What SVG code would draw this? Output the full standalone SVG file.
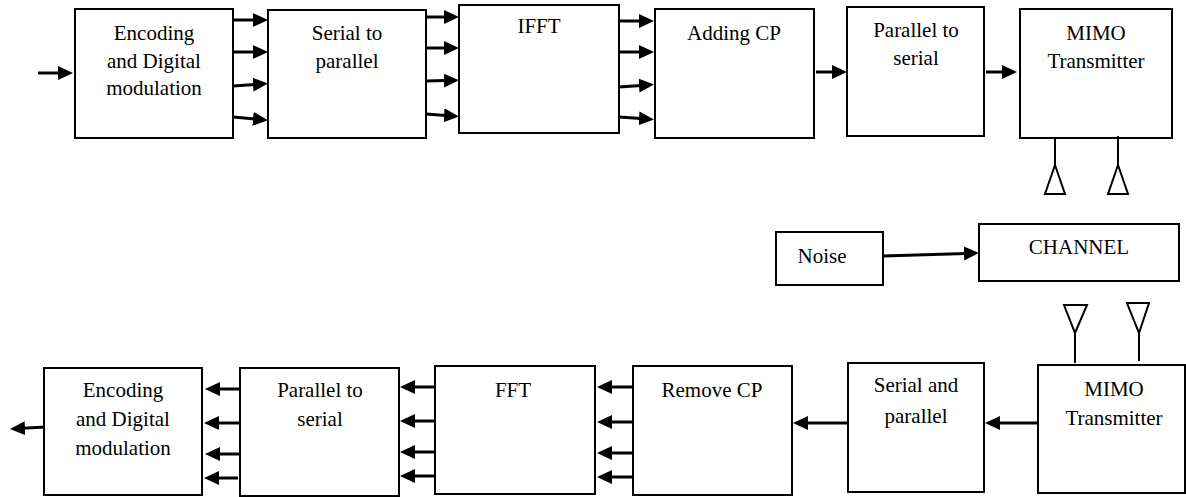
<svg xmlns="http://www.w3.org/2000/svg" width="1186" height="497" viewBox="0 0 1186 497">
<style>
.box{fill:#fff;stroke:#000;stroke-width:2}
.t{font-family:"Liberation Serif","Times New Roman",serif;font-size:21px;fill:#000;text-anchor:middle}
.c{stroke:#000;stroke-width:3;fill:none}
.ant{stroke:#000;stroke-width:2;fill:none}
</style>
<defs>
<marker id="ah" markerUnits="userSpaceOnUse" markerWidth="16" markerHeight="16" refX="2" refY="7" orient="auto">
<path d="M0,0 L15,7 L0,14 z" fill="#000"/>
</marker>
</defs>
<rect width="1186" height="497" fill="#fff"/>
<g id="enc-tx"><rect class="box" x="75" y="9" width="158" height="129"/><text class="t" x="154" y="40">Encoding</text><text class="t" x="154" y="68">and Digital</text><text class="t" x="154" y="95">modulation</text></g>
<g id="s2p-tx"><rect class="box" x="268" y="10" width="158" height="128"/><text class="t" x="347" y="40">Serial to</text><text class="t" x="347" y="68">parallel</text></g>
<g id="ifft"><rect class="box" x="459" y="5" width="160" height="128"/><text class="t" x="539" y="33">IFFT</text></g>
<g id="addcp"><rect class="box" x="655" y="9" width="159" height="129"/><text class="t" x="734" y="40">Adding CP</text></g>
<g id="p2s-tx"><rect class="box" x="847" y="7" width="137" height="129"/><text class="t" x="916" y="37">Parallel to</text><text class="t" x="916" y="65">serial</text></g>
<g id="mimo-tx"><rect class="box" x="1020" y="9" width="152" height="129"/><text class="t" x="1096" y="40">MIMO</text><text class="t" x="1096" y="68">Transmitter</text>
<line class="ant" x1="1055" y1="138" x2="1055" y2="166"/><path class="ant" d="M1055,165 L1045,194 L1065,194 Z"/>
<line class="ant" x1="1118" y1="136" x2="1118" y2="166"/><path class="ant" d="M1118,165 L1108,194 L1128,194 Z"/></g>
<g id="noise"><rect class="box" x="776" y="232" width="107" height="53"/><text class="t" x="822" y="263">Noise</text></g>
<g id="channel"><rect class="box" x="979" y="224" width="200" height="57"/><text class="t" x="1079" y="254">CHANNEL</text></g>
<g id="mimo-rx"><rect class="box" x="1038" y="365" width="147" height="128"/><text class="t" x="1114" y="396">MIMO</text><text class="t" x="1114" y="425">Transmitter</text>
<line class="ant" x1="1075" y1="363" x2="1075" y2="332"/><path class="ant" d="M1064,305 L1087,305 L1075,333 Z"/>
<line class="ant" x1="1139" y1="361" x2="1139" y2="332"/><path class="ant" d="M1127,303 L1149,303 L1139,333 Z"/></g>
<g id="s2p-rx"><rect class="box" x="848" y="363" width="136" height="129"/><text class="t" x="916" y="392">Serial and</text><text class="t" x="916" y="423">parallel</text></g>
<g id="removecp"><rect class="box" x="633" y="366" width="159" height="129"/><text class="t" x="712" y="397">Remove CP</text></g>
<g id="fft"><rect class="box" x="435" y="366" width="160" height="128"/><text class="t" x="513" y="397">FFT</text></g>
<g id="p2s-rx"><rect class="box" x="240" y="368" width="159" height="128"/><text class="t" x="320" y="397">Parallel to</text><text class="t" x="320" y="426">serial</text></g>
<g id="enc-rx"><rect class="box" x="44" y="368" width="158" height="127"/><text class="t" x="123" y="397">Encoding</text><text class="t" x="123" y="426">and Digital</text><text class="t" x="123" y="455">modulation</text></g>
<g id="connectors">
<line class="c" x1="38" y1="73" x2="60" y2="73" marker-end="url(#ah)"/>
<line class="c" x1="233" y1="20" x2="255" y2="20" marker-end="url(#ah)"/>
<line class="c" x1="233" y1="52" x2="255" y2="52" marker-end="url(#ah)"/>
<line class="c" x1="233" y1="86" x2="255" y2="84.5" marker-end="url(#ah)"/>
<line class="c" x1="233" y1="117" x2="255" y2="119" marker-end="url(#ah)"/>
<line class="c" x1="426" y1="17" x2="446" y2="17" marker-end="url(#ah)"/>
<line class="c" x1="426" y1="48" x2="446" y2="48" marker-end="url(#ah)"/>
<line class="c" x1="426" y1="81" x2="446" y2="80.5" marker-end="url(#ah)"/>
<line class="c" x1="426" y1="114" x2="446" y2="115.5" marker-end="url(#ah)"/>
<line class="c" x1="619" y1="21" x2="641" y2="21" marker-end="url(#ah)"/>
<line class="c" x1="619" y1="52" x2="641" y2="52" marker-end="url(#ah)"/>
<line class="c" x1="619" y1="87" x2="641" y2="85.5" marker-end="url(#ah)"/>
<line class="c" x1="619" y1="117" x2="641" y2="118.5" marker-end="url(#ah)"/>
<line class="c" x1="816" y1="72" x2="834" y2="72" marker-end="url(#ah)"/>
<line class="c" x1="986" y1="72" x2="1004" y2="72" marker-end="url(#ah)"/>
<line class="c" x1="883" y1="256" x2="966" y2="253.4" marker-end="url(#ah)"/>
<line class="c" x1="1038" y1="423" x2="998" y2="423" marker-end="url(#ah)"/>
<line class="c" x1="847" y1="423" x2="806" y2="423" marker-end="url(#ah)"/>
<line class="c" x1="633" y1="387" x2="610" y2="387" marker-end="url(#ah)"/>
<line class="c" x1="633" y1="422" x2="610" y2="422" marker-end="url(#ah)"/>
<line class="c" x1="633" y1="453" x2="610" y2="453" marker-end="url(#ah)"/>
<line class="c" x1="632" y1="477" x2="610" y2="477" marker-end="url(#ah)"/>
<line class="c" x1="435" y1="387" x2="413" y2="387" marker-end="url(#ah)"/>
<line class="c" x1="435" y1="421" x2="413" y2="421" marker-end="url(#ah)"/>
<line class="c" x1="435" y1="452" x2="413" y2="452" marker-end="url(#ah)"/>
<line class="c" x1="434" y1="476" x2="413" y2="476" marker-end="url(#ah)"/>
<line class="c" x1="240" y1="389" x2="218" y2="389" marker-end="url(#ah)"/>
<line class="c" x1="240" y1="423" x2="217" y2="423" marker-end="url(#ah)"/>
<line class="c" x1="240" y1="454" x2="218" y2="454" marker-end="url(#ah)"/>
<line class="c" x1="238" y1="478" x2="217" y2="478" marker-end="url(#ah)"/>
<line class="c" x1="45" y1="427" x2="23" y2="428.3" marker-end="url(#ah)"/>
</g>
</svg>
